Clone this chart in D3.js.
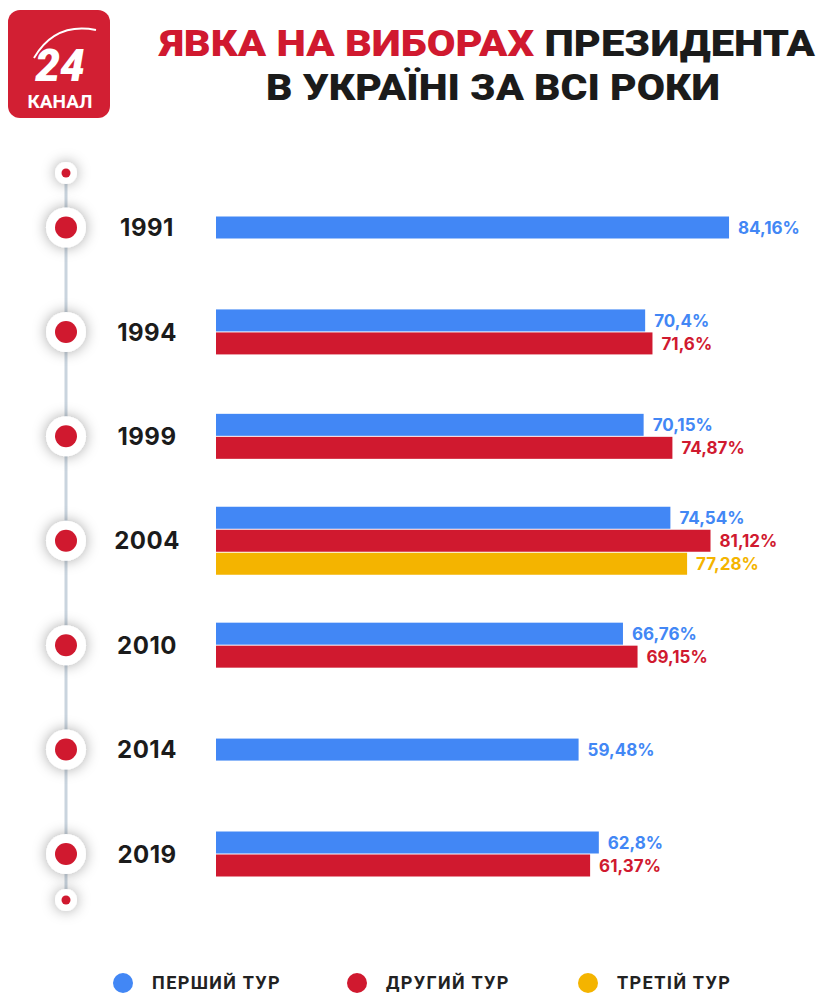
<!DOCTYPE html>
<html>
<head>
<meta charset="utf-8">
<script src="https://cdn.jsdelivr.net/npm/d3@7"></script>
<style>
  body { margin: 0; background: #fff; }
  svg { display: block; }
</style>
</head>
<body>
<div id="wrapper"></div>
<script>
// data
const years = ['1991', '1994', '1999', '2004', '2010', '2014', '2019'];
const firstRound = [84.16, 70.4, 70.15, 74.54, 66.76, 59.48, 62.8];
const secondRound = [null, 71.6, 74.87, 81.12, 69.15, null, 61.37];
const thirdRound = [null, null, null, 77.28, null, null, null];
const seriesNames = ['ПЕРШИЙ ТУР', 'ДРУГИЙ ТУР', 'ТРЕТІЙ ТУР'];
const seriesColors = ['#4287f5', '#d0192f', '#f4b400'];

function drawChart() {
  const width = 824;
  const height = 995;

  const svg = d3.select('#wrapper')
    .append('svg')
    .attr('width', width)
    .attr('height', height);

  const defs = svg.append('defs');
  const shadow = defs.append('filter')
    .attr('id', 'shadow')
    .attr('x', '-100%').attr('y', '-100%')
    .attr('width', '300%').attr('height', '300%');
  shadow.append('feDropShadow')
    .attr('dx', 0).attr('dy', 0)
    .attr('stdDeviation', 7)
    .attr('flood-color', '#000')
    .attr('flood-opacity', 0.35);

  // logo
  const logo = svg.append('g');
  logo.append('rect')
    .attr('x', 8).attr('y', 10)
    .attr('width', 102).attr('height', 108)
    .attr('rx', 12)
    .attr('fill', '#d21f33');
  logo.append('path')
    .attr('d', 'M34,58 Q55,22 96,30')
    .attr('fill', 'none')
    .attr('stroke', '#fff')
    .attr('stroke-width', 2);
  logo.append('text')
    .attr('x', 60).attr('y', 81)
    .attr('text-anchor', 'middle')
    .attr('fill', '#fff')
    .style('font-family', 'Roboto, sans-serif')
    .style('font-weight', 900)
    .style('font-style', 'italic')
    .style('font-size', '44px')
    .text('24');
  logo.append('text')
    .attr('x', 60).attr('y', 108)
    .attr('text-anchor', 'middle')
    .attr('fill', '#fff')
    .style('font-family', 'Roboto, sans-serif')
    .style('font-weight', 700)
    .style('font-size', '19px')
    .text('КАНАЛ');

  // title
  const titleStyle = (t) => t
    .style('font-family', 'Roboto, sans-serif')
    .style('font-weight', 900)
    .style('font-size', '37px');
  const t1 = svg.append('text')
    .attr('x', 160).attr('y', 56)
    .attr('textLength', 655)
    .attr('lengthAdjust', 'spacingAndGlyphs')
    .call(titleStyle);
  t1.append('tspan').attr('fill', '#d0192f').text('ЯВКА НА ВИБОРАХ ');
  t1.append('tspan').attr('fill', '#1b1b1b').text('ПРЕЗИДЕНТА');
  svg.append('text')
    .attr('x', 266).attr('y', 100)
    .attr('textLength', 454)
    .attr('lengthAdjust', 'spacingAndGlyphs')
    .attr('fill', '#1b1b1b')
    .call(titleStyle)
    .text('В УКРАЇНІ ЗА ВСІ РОКИ');

  // scales
  const xScale = d3.scaleLinear().domain([0, 100]).range([216, 216 + 609.6]);
  const yScale = d3.scalePoint().domain(years).range([227.5, 854]);
  const barH = 22;
  const gap = 1;

  // timeline
  const tl = svg.append('g');
  tl.append('line')
    .attr('x1', 66).attr('x2', 66)
    .attr('y1', 173).attr('y2', 900)
    .attr('stroke', '#c9d4de')
    .attr('stroke-width', 3);
  [173, 900].forEach((cy) => {
    tl.append('circle').attr('cx', 66).attr('cy', cy).attr('r', 11)
      .attr('fill', '#fff').attr('filter', 'url(#shadow)');
    tl.append('circle').attr('cx', 66).attr('cy', cy).attr('r', 4.5)
      .attr('fill', '#d0192f');
  });
  const nodes = tl.selectAll('g.node').data(years).join('g')
    .attr('class', 'node')
    .attr('transform', (d) => `translate(66,${yScale(d)})`);
  nodes.append('circle').attr('r', 20).attr('fill', '#fff').attr('filter', 'url(#shadow)');
  nodes.append('circle').attr('r', 11).attr('fill', '#d0192f');

  // year labels
  svg.selectAll('text.year').data(years).join('text')
    .attr('class', 'year')
    .attr('x', 147)
    .attr('y', (d) => yScale(d))
    .attr('dy', '0.36em')
    .attr('text-anchor', 'middle')
    .attr('fill', '#1b1b1b')
    .style('font-family', 'Inter, sans-serif')
    .style('font-weight', 700)
    .style('font-size', '24px')
    .style('letter-spacing', '0.5px')
    .text((d) => d);

  // bars
  const rows = [];
  years.forEach((yr, i) => {
    const vals = [firstRound[i], secondRound[i], thirdRound[i]]
      .map((v, s) => ({ v, s }))
      .filter((o) => o.v !== null);
    const n = vals.length;
    const total = n * barH + (n - 1) * gap;
    vals.forEach((o, k) => {
      rows.push({
        year: yr,
        value: o.v,
        series: o.s,
        y: yScale(yr) - total / 2 + k * (barH + gap),
      });
    });
  });

  svg.append('g').selectAll('rect').data(rows).join('rect')
    .attr('x', xScale(0))
    .attr('y', (d) => d.y)
    .attr('width', (d) => xScale(d.value) - xScale(0))
    .attr('height', barH)
    .attr('fill', (d) => seriesColors[d.series]);

  svg.append('g').selectAll('text').data(rows).join('text')
    .attr('x', (d) => xScale(d.value) + 9)
    .attr('y', (d) => d.y + barH / 2)
    .attr('dy', '0.36em')
    .attr('fill', (d) => seriesColors[d.series])
    .style('font-family', 'Inter, sans-serif')
    .style('font-weight', 700)
    .style('font-size', '17px')
    .text((d) => String(d.value).replace('.', ',') + '%');

  // legend
  const legendX = [123, 357, 588];
  const legend = svg.append('g').selectAll('g').data(seriesNames).join('g')
    .attr('transform', (d, i) => `translate(${legendX[i]},983)`);
  legend.append('circle')
    .attr('r', 10)
    .attr('fill', (d, i) => seriesColors[i]);
  legend.append('text')
    .attr('x', 29)
    .attr('dy', '0.36em')
    .attr('fill', '#222')
    .style('font-family', 'Roboto, sans-serif')
    .style('font-weight', 700)
    .style('font-size', '18px')
    .style('letter-spacing', '1.4px')
    .text((d) => d);
}

drawChart();
</script>
</body>
</html>
